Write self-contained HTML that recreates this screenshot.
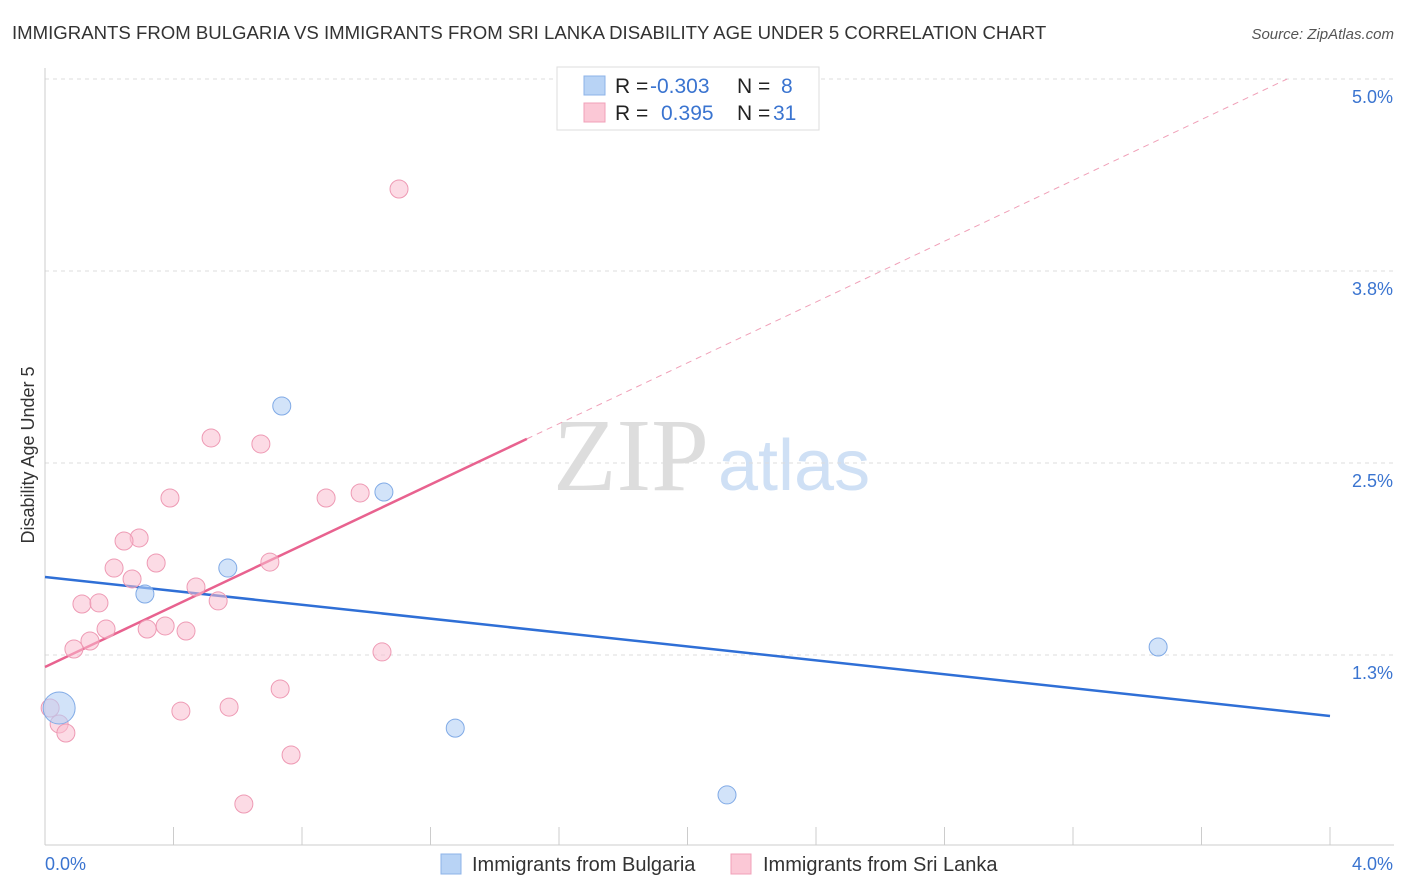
<!DOCTYPE html>
<html><head><meta charset="utf-8"><style>
body{margin:0;background:#fff;font-family:"Liberation Sans",sans-serif;}
#wrap{position:relative;width:1406px;height:892px;overflow:hidden;}
</style></head><body>
<div id="wrap">
<svg id="chart" width="1406" height="892">
<text x="12" y="39" font-size="18.6" fill="#333">IMMIGRANTS FROM BULGARIA VS IMMIGRANTS FROM SRI LANKA DISABILITY AGE UNDER 5 CORRELATION CHART</text>
<text x="1394" y="39" font-size="15" fill="#555" font-style="italic" text-anchor="end">Source: ZipAtlas.com</text>
<text x="553" y="490" font-size="104" fill="#ddd" font-family="Liberation Serif">ZIP</text>
<text x="718" y="490" font-size="72" fill="#cfe0f5">atlas</text>
<text transform="translate(34,455) rotate(-90)" font-size="18" fill="#333" text-anchor="middle">Disability Age Under 5</text>
<g id="grid"></g><g id="lines"></g><g id="pts"></g>
<rect x="557" y="67" width="262" height="63" fill="#fff" stroke="#ddd"/>
<rect x="584" y="76" width="21" height="19" fill="#b8d3f5" stroke="#8db3e8"/>
<rect x="584" y="103" width="21" height="19" fill="#fbc8d6" stroke="#f0a0b8"/>
<text y="93" font-size="21"><tspan x="615" fill="#222">R = </tspan><tspan x="650" fill="#3a74d0">-0.303</tspan><tspan x="737" fill="#222">N = </tspan><tspan x="781" fill="#3a74d0">8</tspan></text>
<text y="120" font-size="21"><tspan x="615" fill="#222">R = </tspan><tspan x="661" fill="#3a74d0">0.395</tspan><tspan x="737" fill="#222">N = </tspan><tspan x="773" fill="#3a74d0">31</tspan></text>
<rect x="441" y="854" width="20" height="20" fill="#b8d3f5" stroke="#8db3e8"/>
<text x="472" y="871" font-size="20" fill="#333">Immigrants from Bulgaria</text>
<rect x="731" y="854" width="20" height="20" fill="#fbc8d6" stroke="#f0a0b8"/>
<text x="763" y="871" font-size="20" fill="#333">Immigrants from Sri Lanka</text>
</svg></div>
<script>
const yTicks=[1.25,2.5,3.75,5.0];
const yTickLabels=["1.3%","2.5%","3.8%","5.0%"];
const xTickLabels=["0.0%","4.0%"];
const bulgariaX=[0.044,0.311,0.569,0.737,1.055,1.277,2.123,3.465];
const bulgariaY=[0.905,1.647,1.816,2.871,2.311,0.774,0.339,1.302];
const sriLankaX=[1.102,0.517,0.672,0.389,0.875,0.981,0.293,0.246,0.346,0.215,0.700,0.271,0.470,0.539,0.115,0.168,0.190,0.374,0.318,0.439,0.140,0.090,1.049,0.732,0.423,0.573,0.016,0.044,0.065,0.766,0.619];
const sriLankaY=[4.284,2.663,2.624,2.272,2.272,2.305,2.012,1.992,1.849,1.816,1.855,1.745,1.693,1.602,1.582,1.589,1.419,1.439,1.419,1.406,1.341,1.289,1.270,1.029,0.885,0.911,0.905,0.801,0.742,0.599,0.280];
const bulgariaTrend=[1.758,0.853];
const sriLankaTrend=[1.172,0.99];
const X=v=>45+v*321.25, Y=v=>847-v*153.6;
const NS="http://www.w3.org/2000/svg";
function mk(p,t,a){const e=document.createElementNS(NS,t);for(const k in a)e.setAttribute(k,a[k]);p.appendChild(e);return e;}
const g=document.getElementById('grid'),L=document.getElementById('lines'),P=document.getElementById('pts');
yTicks.forEach((t,i)=>{
 const l=mk(g,'line',{x1:45,x2:1394,y1:Y(t),y2:Y(t),stroke:'#ddd','stroke-dasharray':'4,4'});
 
 
 const tx=mk(g,'text',{x:1393,y:Y(t)+24,'font-size':18,fill:'#3a74d0','text-anchor':'end'});tx.textContent=yTickLabels[i];
 
 
});
const ax=mk(g,'line',{x1:45,x2:1394,y1:845,y2:845,stroke:'#ccc'});


const ay=mk(g,'line',{x1:45,x2:45,y1:68,y2:845,stroke:'#ccc'});


for(let i=0;i<=10;i++){const tk=mk(g,'line',{x1:X(i*0.4),x2:X(i*0.4),y1:827,y2:845,stroke:'#ccc'});
 
 }
xTickLabels.forEach((s,i)=>{const tx=mk(g,'text',{x:i?1393:45,y:870,'font-size':18,fill:'#3a74d0','text-anchor':i?'end':'start'});tx.textContent=s;
 
 });
const bl=mk(L,'line',{x1:X(0),y1:Y(bulgariaTrend[0]),x2:X(4),y2:Y(bulgariaTrend[1]),stroke:'#2f6fd6','stroke-width':2.5});


const sy=x=>sriLankaTrend[0]+sriLankaTrend[1]*x;
const xe=(5-sriLankaTrend[0])/sriLankaTrend[1];
const sd=mk(L,'line',{x1:X(1.5),y1:Y(sy(1.5)),x2:X(xe),y2:Y(5),stroke:'#f0a0b8','stroke-width':1,'stroke-dasharray':'6,5'});


const sl=mk(L,'line',{x1:X(0),y1:Y(sy(0)),x2:X(1.5),y2:Y(sy(1.5)),stroke:'#e8628f','stroke-width':2.5});


sriLankaX.forEach((x,i)=>{const c=mk(P,'circle',{cx:X(x),cy:Y(sriLankaY[i]),r:9,fill:'rgba(250,190,208,0.55)',stroke:'#ee9ab4','stroke-width':1});
 
 });
bulgariaX.forEach((x,i)=>{const c=mk(P,'circle',{cx:X(x),cy:Y(bulgariaY[i]),r:i==0?16:9,fill:'rgba(180,208,245,0.6)',stroke:'#80aae6','stroke-width':1});
 
 });
</script>
</body></html>
